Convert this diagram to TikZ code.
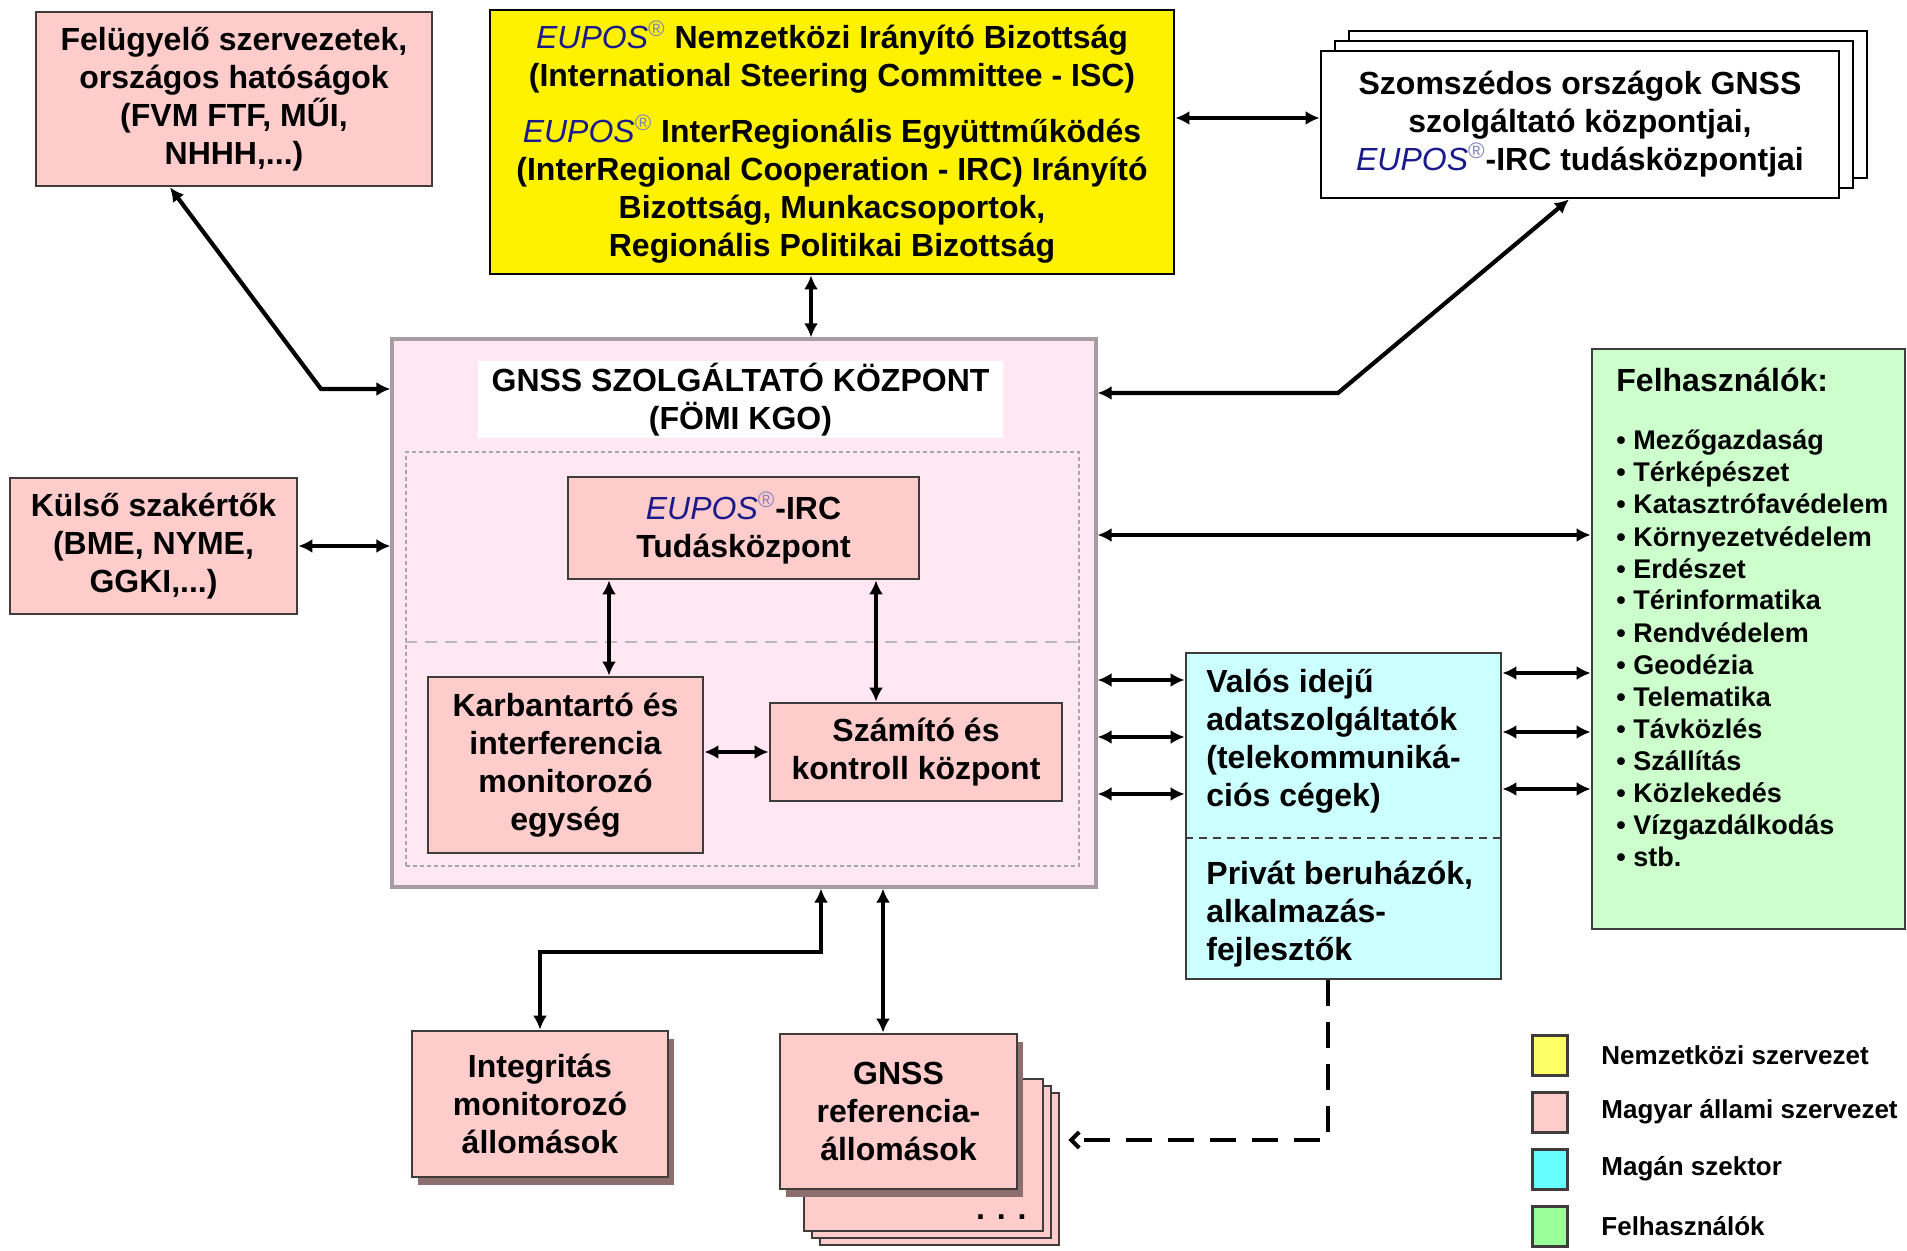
\documentclass[tikz,border=0pt]{standalone}
\usepackage{fontspec}
\setmainfont{Liberation Sans}
\usepackage{xcolor}
\usetikzlibrary{arrows.meta, positioning, calc, shadows}

\definecolor{hupink}{RGB}{255,204,204}
\definecolor{centerpink}{RGB}{255,232,242}
\definecolor{centerline}{RGB}{168,156,164}
\definecolor{boxline}{RGB}{64,60,60}
\definecolor{hucyan}{RGB}{204,255,255}
\definecolor{hugreen}{RGB}{204,255,204}
\definecolor{shadowcol}{RGB}{140,110,110}
\definecolor{euposblue}{RGB}{26,26,140}
\definecolor{regcol}{RGB}{130,130,190}
\definecolor{legyellow}{RGB}{255,255,102}
\definecolor{legcyan}{RGB}{102,255,255}
\definecolor{leggreen}{RGB}{153,255,153}

\newcommand{\boxfont}{\fontsize{16}{19}\selectfont\bfseries}
\newcommand{\eupos}{{\mdseries\itshape\color{euposblue}EUPOS}\textsuperscript{\mdseries\color{regcol}\textregistered}}

\begin{document}
\begin{tikzpicture}[
    x=0.5pt, y=-0.5pt,
    box/.style={draw=boxline, line width=1.4pt, inner sep=0pt, align=center, font=\boxfont},
    pinkbox/.style={box, fill=hupink},
    stackbox/.style={box, fill=white, draw=black},
    shadowed/.style={drop shadow={shadow xshift=3pt, shadow yshift=-4pt, fill=shadowcol, opacity=1}},
    biarr/.style={{Latex[length=7pt,width=7pt]}-{Latex[length=7pt,width=7pt]}, line width=2.1pt},
    dasharr/.style={-{Straight Barb[length=4pt,width=8pt]}, line width=2pt, dash pattern=on 13pt off 8pt},
    txt/.style={inner sep=0pt, font=\boxfont},
    listitem/.style={anchor=base west, inner sep=0pt, font=\fontsize{13.5}{16}\selectfont\bfseries},
    legbox/.style={draw=boxline, line width=1.5pt, minimum width=17.5pt, minimum height=20pt},
    legtext/.style={inner sep=0pt, font=\fontsize{13}{16}\selectfont\bfseries},
]
    \fill[white] (0,0) rectangle (1907,1251);
    \useasboundingbox (0,0) rectangle (1907,1251);

    % ── Top row ─────────────────────────────────────
    \node[pinkbox, minimum width=198pt, minimum height=87pt] (fel) at (234,99)
         {Felügyelő szervezetek,\\országos hatóságok\\(FVM FTF, MŰI,\\NHHH,...)};
    \node[box, fill=yellow, draw=black, minimum width=342pt, minimum height=132pt] (isc) at (832,142)
         {\eupos{} Nemzetközi Irányító Bizottság\\(International Steering Committee - ISC)\\[9pt]
          \eupos{} InterRegionális Együttműködés\\(InterRegional Cooperation - IRC) Irányító\\
          Bizottság, Munkacsoportok,\\Regionális Politikai Bizottság};
    \node[stackbox, double copy shadow={shadow xshift=7pt, shadow yshift=5pt},
          minimum width=259pt, minimum height=73.5pt] (szom) at (1580,124.5)
         {Szomszédos országok GNSS\\szolgáltató központjai,\\\eupos-IRC tudásközpontjai};

    % ── GNSS service centre ─────────────────────────
    \node[box, fill=centerpink, draw=centerline, line width=1.6pt,
          minimum width=352pt, minimum height=274pt] (gnss) at (744,613) {};
    \node[txt, fill=white, align=center, minimum width=262.5pt, minimum height=38.5pt] (gnsstitle)
         at (740.5,399.5) {GNSS SZOLGÁLTATÓ KÖZPONT\\(FÖMI KGO)};
    \node[draw=gray!70, line width=0.8pt, dash pattern=on 2pt off 1.5pt,
          minimum width=336.5pt, minimum height=207pt] (inner) at (742.5,659) {};
    \draw[gray!55, line width=1.2pt, dash pattern=on 6pt off 4pt]
         ($(inner.north west)+(0,191)$) -- ($(inner.north east)+(0,191)$);
    \node[pinkbox, minimum width=175.5pt, minimum height=51pt] (tudas) at (743.5,528)
         {\eupos-IRC\\Tudásközpont};
    \node[pinkbox, minimum width=137.5pt, minimum height=88pt] (karb) at (565.5,765)
         {Karbantartó és\\interferencia\\monitorozó\\egység};
    \node[pinkbox, minimum width=146pt, minimum height=49pt] (szam) at (916,752)
         {Számító és\\kontroll központ};

    % ── Left / right side ───────────────────────────
    \node[pinkbox, minimum width=143.5pt, minimum height=68pt] (kulso) at (153.5,546)
         {Külső szakértők\\(BME, NYME,\\GGKI,...)};

    \node[box, fill=hugreen, minimum width=156.5pt, minimum height=290pt] (felh) at (1748.5,639) {};
    \node[txt, anchor=base west] (felhhead) at (1616,392) {Felhasználók:};
    \foreach \ag [count=\i] in {Mezőgazdaság, Térképészet, Katasztrófavédelem,
        Környezetvédelem, Erdészet, Térinformatika, Rendvédelem, Geodézia, Telematika,
        Távközlés, Szállítás, Közlekedés, Vízgazdálkodás, stb.}
        \node[listitem] (use\i) at (1616,{450+32*(\i-1)}) {\textbullet\ \ag};

    \node[box, fill=hucyan, minimum width=157.5pt, minimum height=163pt] (valos) at (1343.5,816) {};
    \draw[boxline, line width=0.9pt, dash pattern=on 4pt off 3pt]
         ($(valos.north west)+(0,186)$) -- ($(valos.north east)+(0,186)$);
    \node[txt, anchor=west, align=left] (valosA) at (1206,741)
         {Valós idejű\\adatszolgáltatók\\(telekommuniká-\\ciós cégek)};
    \node[txt, anchor=west, align=left] (valosB) at (1206,914)
         {Privát beruházók,\\alkalmazás-\\fejlesztők};

    % ── Stations (bottom) ───────────────────────────
    \node[pinkbox, shadowed, minimum width=128pt, minimum height=73pt] (integ) at (540,1104)
         {Integritás\\monitorozó\\állomások};
    \node[pinkbox, double copy shadow={shadow xshift=4pt, shadow yshift=-3.5pt},
          minimum width=119.5pt, minimum height=76pt] (refback) at (923.5,1155) {};
    \node[txt] (refdots) at ($(refback.south east)+(-43,-15)$) {. . .};
    \node[pinkbox, shadowed, minimum width=118.5pt, minimum height=77.5pt] (ref) at (898.5,1111.5)
         {GNSS\\referencia-\\állomások};

    % ── Connectors ──────────────────────────────────
    \coordinate (felbend) at (321,389);
    \coordinate (szombend) at (1338,393);
    \draw[biarr] ($(fel.south)+(-64,0)$) -- (felbend) -- (felbend -| gnss.west);
    \draw[biarr] ($(isc.south)+(-21,0)$) -- ($(gnss.north)+(67,0)$);
    \coordinate (szomA) at ($(szom.west)+(0,-6.5)$);
    \draw[biarr] (isc.east |- szomA) -- (szomA);
    \draw[biarr] ($(szom.south)+(-11,0)$) -- (szombend) -- (szombend -| gnss.east);
    \draw[biarr] (kulso.east) -- (kulso.east -| gnss.west);
    \coordinate (felhA) at ($(felh.west)+(0,-104)$);
    \draw[biarr] (gnss.east |- felhA) -- (felhA);

    \coordinate (karbA) at ($(karb.north)+(43.5,0)$);
    \draw[biarr] (tudas.south -| karbA) -- (karbA);
    \coordinate (szamA) at ($(szam.north)+(-40,0)$);
    \draw[biarr] (tudas.south -| szamA) -- (szamA);
    \draw[biarr] (karb.east |- szam.west) -- (szam.west);

    \foreach \dy in {-136,-79,-22} {
        \coordinate (vw) at ($(valos.west)+(0,\dy)$);
        \draw[biarr] (gnss.east |- vw) -- (vw);
    }
    \foreach \dy in {-143,-84,-27} {
        \coordinate (ve) at ($(valos.east)+(0,\dy)$);
        \draw[biarr] (ve) -- (ve -| felh.west);
    }

    \draw[biarr] ($(gnss.south)+(77,0)$) -- ++(0,63) -| (integ.north);
    \coordinate (gnssB) at ($(gnss.south)+(139,0)$);
    \draw[biarr] (gnssB) -- (gnssB |- ref.north);
    \draw[dasharr] ($(valos.south)+(-15.5,0)$) |- ($(refback.east)+(24,-15)$);

    % ── Legend ──────────────────────────────────────
    \foreach \col/\lab [count=\i] in {legyellow/Nemzetközi szervezet, hupink/Magyar állami szervezet,
        legcyan/Magán szektor, leggreen/Felhasználók} {
        \node[legbox, fill=\col] (leg\i) at (1550,{1055+57*(\i-1)}) {};
        \node[legtext, right=16pt of leg\i] (legt\i) {\lab};
    }
\end{tikzpicture}
\end{document}
